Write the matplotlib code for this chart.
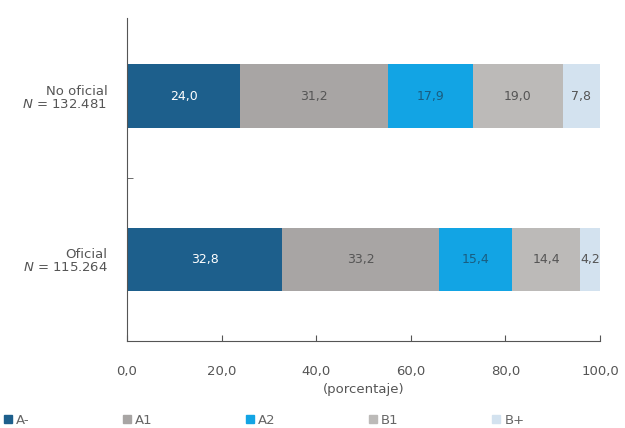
import numpy as np
import matplotlib.pyplot as plt
from matplotlib.patches import Patch

# Data
groups = ["Oficial\n$N$ = 115.264", "No oficial\n$N$ = 132.481"]
levels = ["A-", "A1", "A2", "B1", "B+"]
oficial = [32.8, 33.2, 15.4, 14.4, 4.2]
no_oficial = [24.0, 31.2, 17.9, 19.0, 7.8]
colors = ["#1d5f8c", "#a8a5a4", "#12a4e4", "#bcbab8", "#d3e2ef"]
text_colors = ["white", "#555555", "#1a5d80", "#555555", "#555555"]
xticks = [0, 20, 40, 60, 80, 100]

values = np.array([oficial, no_oficial])
grey = "#555555"

fig = plt.figure(figsize=(6.25, 4.28), dpi=100)
ax = fig.add_axes([0.203, 0.203, 0.757, 0.755])

y = np.arange(len(groups))
left = np.zeros(len(groups))
for i, lev in enumerate(levels):
    ax.barh(y, values[:, i], left=left, height=0.39, color=colors[i], label=lev)
    for j in range(len(groups)):
        ax.text(left[j] + values[j, i] / 2, y[j], f"{values[j, i]:.1f}".replace(".", ","),
                ha="center", va="center", fontsize=9, color=text_colors[i])
    left += values[:, i]

ax.set_xlim(0, 100)
ax.set_ylim(-0.5, 1.48)
ax.set_xticks(xticks)
ax.set_xticklabels([f"{t:.1f}".replace(".", ",") for t in xticks], color=grey, fontsize=9.5)
ax.tick_params(axis="x", direction="in", length=4, color=grey, pad=17)
ax.set_yticks(y)
ax.set_yticklabels(groups, color=grey, fontsize=9.5, ha="right", linespacing=1.0)
ax.tick_params(axis="y", length=0, pad=23)
ax.set_yticks([0.5], minor=True)
ax.tick_params(axis="y", which="minor", direction="in", length=4, color=grey)
ax.tick_params(axis="y", which="major", pad=14)
ax.set_xlabel("(porcentaje)", color=grey, fontsize=9.5, labelpad=4)

for s in ["top", "right"]:
    ax.spines[s].set_visible(False)
for s in ["left", "bottom"]:
    ax.spines[s].set_color(grey)
    ax.spines[s].set_linewidth(0.8)

handles = [Patch(color=c, label=l) for c, l in zip(colors, levels)]
fig.legend(handles=handles, loc="lower left", ncol=5, bbox_to_anchor=(-0.012, -0.025, 0.87, 0.05),
           mode="expand", frameon=False, fontsize=9.5, handlelength=0.6, handleheight=0.6,
           handletextpad=0.3, labelcolor="#666666")

fig.savefig("out.png", dpi=100)
